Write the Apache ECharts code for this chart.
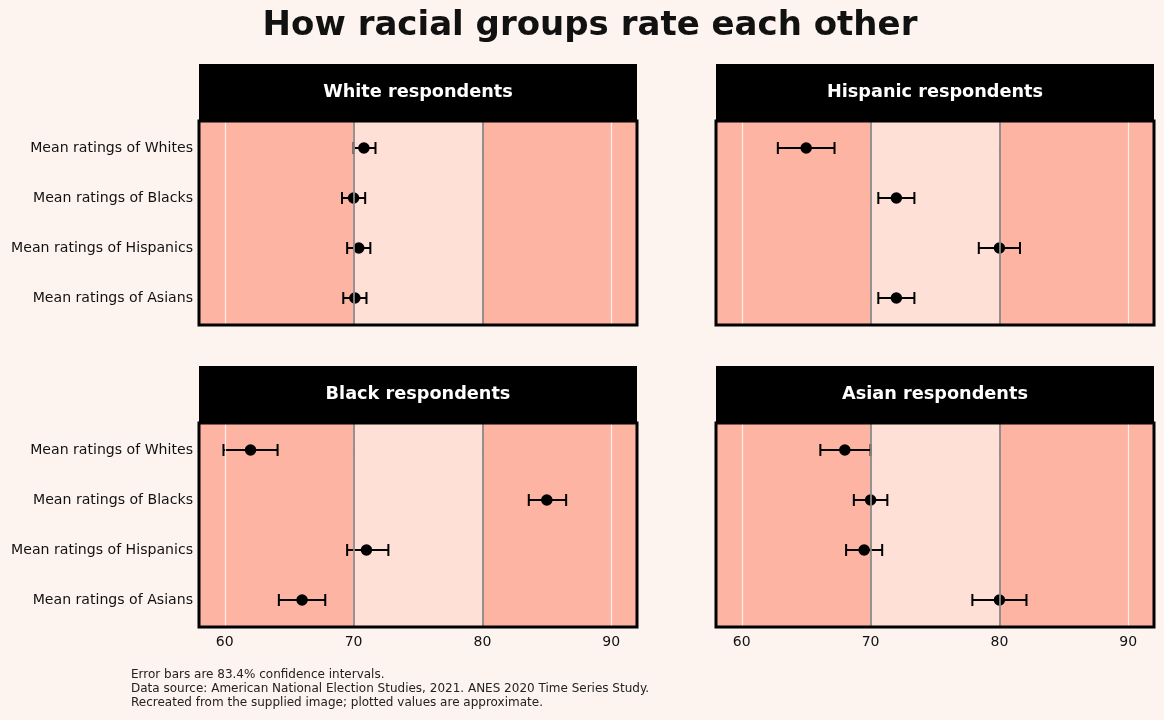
<!DOCTYPE html>
<html>
<head>
<meta charset="utf-8">
<script src="https://cdn.jsdelivr.net/npm/echarts@6/dist/echarts.min.js"></script>
<style>
  html, body { margin: 0; background: #fdf3ef; }
  #chart { width: 1164px; height: 720px; }
</style>
</head>
<body>
<div id="chart"></div>
<script>
// rows (top to bottom) and panel order
const categories = ['Mean ratings of Whites', 'Mean ratings of Blacks', 'Mean ratings of Hispanics', 'Mean ratings of Asians'];
const panelTitles = ['White respondents', 'Hispanic respondents', 'Black respondents', 'Asian respondents'];

// means and 83.4% CI ends
const whiteMean = [70.8, 70.0, 70.4, 70.1];
const whiteLow  = [70.0, 69.1, 69.5, 69.2];
const whiteHigh = [71.7, 70.9, 71.3, 71.0];

const hispanicMean = [65.0, 72.0, 80.0, 72.0];
const hispanicLow  = [62.8, 70.6, 78.4, 70.6];
const hispanicHigh = [67.2, 73.4, 81.6, 73.4];

const blackMean = [62.0, 85.0, 71.0, 66.0];
const blackLow  = [59.9, 83.6, 69.5, 64.2];
const blackHigh = [64.1, 86.5, 72.7, 67.8];

const asianMean = [68.0, 70.0, 69.5, 80.0];
const asianLow  = [66.1, 68.7, 68.1, 77.9];
const asianHigh = [70.0, 71.3, 70.9, 82.1];

const xTicks = [60, 70, 80, 90];
const xMin = 58, xMax = 92;
const bandEdges = [58, 70, 80, 92];
const rowTicks = [0, 1, 2, 3];

const panelData = [
  [whiteMean, whiteLow, whiteHigh],
  [hispanicMean, hispanicLow, hispanicHigh],
  [blackMean, blackLow, blackHigh],
  [asianMean, asianLow, asianHigh]
];

const font = 'DejaVu Sans';
const panels = [
  { left: 199, top: 121 },
  { left: 716, top: 121 },
  { left: 199, top: 423 },
  { left: 716, top: 423 }
];
const pw = 438, ph = 204, headH = 57;

const dark = '#fdb4a3', light = '#fee0d7';

function renderErr(params, api) {
  const y = api.value(0);
  const lo = api.coord([api.value(1), y]);
  const hi = api.coord([api.value(2), y]);
  const cap = 6;
  const st = { stroke: '#000', lineWidth: 2 };
  return {
    type: 'group',
    children: [
      { type: 'line', shape: { x1: lo[0], y1: lo[1], x2: hi[0], y2: hi[1] }, style: st },
      { type: 'line', shape: { x1: lo[0], y1: lo[1] - cap, x2: lo[0], y2: lo[1] + cap }, style: st },
      { type: 'line', shape: { x1: hi[0], y1: hi[1] - cap, x2: hi[0], y2: hi[1] + cap }, style: st }
    ]
  };
}

const grid = [], xAxis = [], yAxis = [], series = [], graphic = [];

panels.forEach((p, i) => {
  const bottomRow = i >= 2, leftCol = i % 2 === 0;
  grid.push({ left: p.left, top: p.top, width: pw, height: ph });
  xAxis.push({
    gridIndex: i, type: 'value', min: xMin, max: xMax,
    axisLine: { show: false },
    splitLine: { show: false },
    axisTick: { show: true, customValues: xTicks, length: 5, lineStyle: { color: '#000', width: 1.5 } },
    axisLabel: { show: bottomRow, customValues: xTicks, fontFamily: font, fontSize: 14, color: '#111', margin: 8 }
  });
  yAxis.push({
    gridIndex: i, type: 'value', min: -0.54, max: 3.54, inverse: true,
    axisLine: { show: false }, axisTick: { show: false }, splitLine: { show: false },
    axisLabel: {
      show: leftCol, customValues: rowTicks, formatter: v => categories[Math.round(v)],
      fontFamily: font, fontSize: 14.1, color: '#111', margin: 6
    }
  });

  const [mean, low, high] = panelData[i];

  // background bands and reference lines
  series.push({
    type: 'scatter', xAxisIndex: i, yAxisIndex: i, data: [], silent: true, z: 1,
    markArea: {
      silent: true,
      data: [
        [{ xAxis: bandEdges[0], itemStyle: { color: dark } }, { xAxis: bandEdges[1] }],
        [{ xAxis: bandEdges[1], itemStyle: { color: light } }, { xAxis: bandEdges[2] }],
        [{ xAxis: bandEdges[2], itemStyle: { color: dark } }, { xAxis: bandEdges[3] }]
      ]
    },
    markLine: {
      silent: true, symbol: 'none', label: { show: false },
      data: xTicks.map(v => ({
        xAxis: v,
        lineStyle: (v === 70 || v === 80)
          ? { color: '#8a8a8a', width: 1.8, type: 'solid' }
          : { color: '#ffffff', width: 1.2, type: 'solid', opacity: 0.8 }
      }))
    }
  });

  series.push({
    type: 'custom', xAxisIndex: i, yAxisIndex: i, z: 3,
    renderItem: renderErr,
    encode: { x: [1, 2], y: 0 },
    data: rowTicks.map(k => [k, low[k], high[k]])
  });

  series.push({
    type: 'scatter', xAxisIndex: i, yAxisIndex: i, z: 4,
    symbolSize: 11.5, itemStyle: { color: '#000', opacity: 1 },
    data: rowTicks.map(k => [mean[k], k])
  });

  // header strip and panel frame
  graphic.push({
    type: 'rect', z: 50,
    shape: { x: p.left, y: p.top - headH, width: pw, height: headH },
    style: { fill: '#000' }
  });
  graphic.push({
    type: 'text', z: 51, x: p.left + pw / 2, y: p.top - headH / 2,
    style: { text: panelTitles[i], fill: '#fff', font: 'bold 17.7px "DejaVu Sans"', align: 'center', verticalAlign: 'middle' }
  });
  graphic.push({
    type: 'rect', z: 60,
    shape: { x: p.left, y: p.top, width: pw, height: ph },
    style: { fill: 'none', stroke: '#000', lineWidth: 3 }
  });
});

graphic.push({
  type: 'text', x: 590, y: 26,
  style: { text: 'How racial groups rate each other', fill: '#111', font: 'bold 34px "DejaVu Sans"', align: 'center', verticalAlign: 'middle' }
});
graphic.push({
  type: 'text', x: 131, y: 668,
  style: {
    text: 'Error bars are 83.4% confidence intervals.\nData source: American National Election Studies, 2021. ANES 2020 Time Series Study.\nRecreated from the supplied image; plotted values are approximate.',
    fill: '#222', font: '12px "DejaVu Sans"', lineHeight: 14
  }
});

const myChart = echarts.init(document.getElementById('chart'));
myChart.setOption({
  backgroundColor: '#fdf3ef',
  animation: false,
  grid, xAxis, yAxis, series, graphic
});
</script>
</body>
</html>
